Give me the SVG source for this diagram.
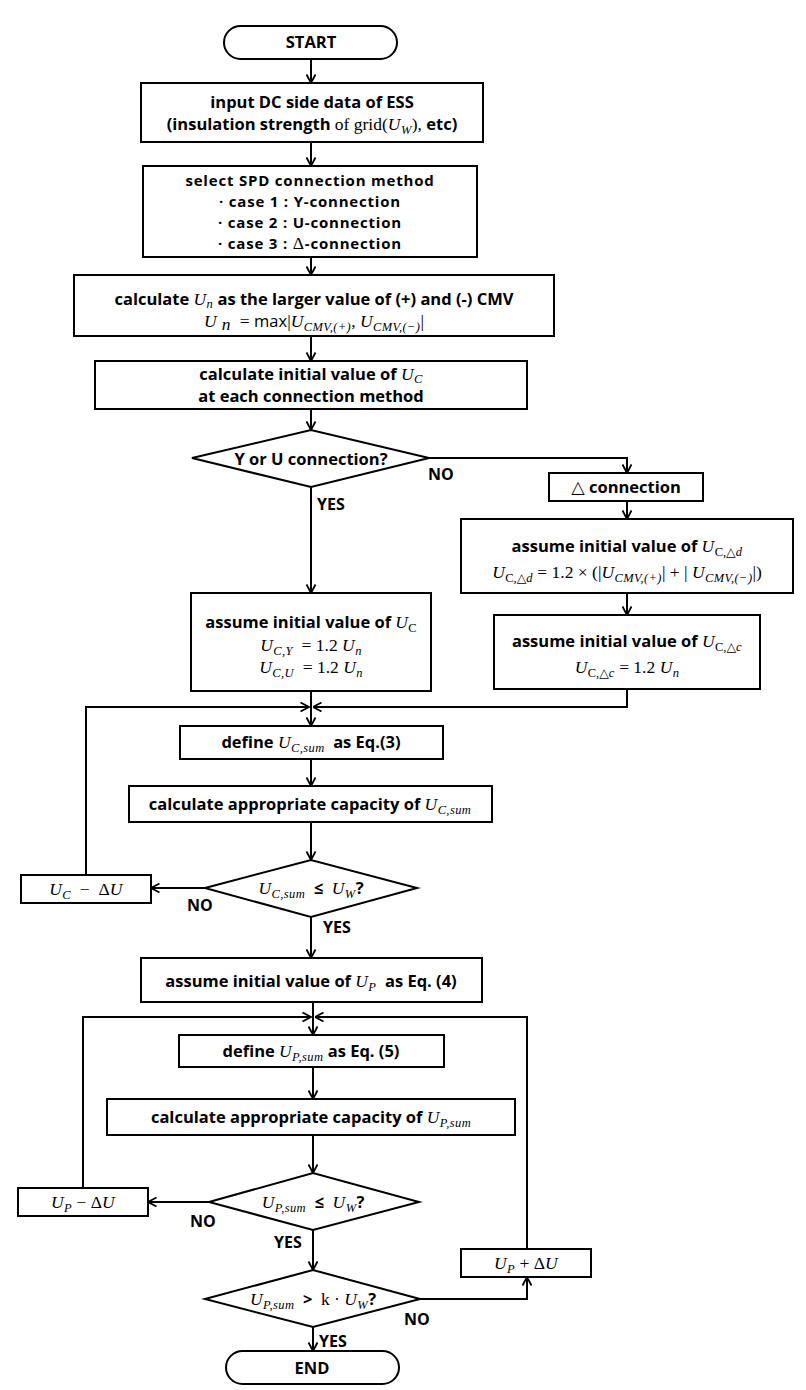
<svg xmlns="http://www.w3.org/2000/svg" width="806" height="1390" viewBox="0 0 806 1390">
<style>
.n{fill:#fff;stroke:#000;stroke-width:2}
.c{fill:none;stroke:#000;stroke-width:2}
.b{font-family:"Open Sans","Noto Sans",sans-serif;font-weight:700;font-size:16.5px;fill:#000}
.k{font-size:15px;letter-spacing:0.8px}
.m{font-family:"Liberation Serif","DejaVu Serif",serif;font-style:italic;font-weight:400;font-size:17.5px;letter-spacing:0.4px}
.r{font-family:"Liberation Serif","DejaVu Serif",serif;font-style:normal;font-weight:400;font-size:17.5px}
.u{font-family:"Open Sans","Noto Sans",sans-serif;font-weight:400}
.s{font-size:12.5px}
.l{font-family:"Open Sans","Noto Sans",sans-serif;font-weight:700;font-size:16px;fill:#000}
</style>
<defs>
<marker id="a" viewBox="0 0 10 10" refX="9.5" refY="5" markerWidth="10" markerHeight="10" markerUnits="userSpaceOnUse" orient="auto">
<path d="M1,0.5 L9.5,5 L1,9.5" fill="none" stroke="#000" stroke-width="1.8"/>
</marker>
</defs>
<rect width="806" height="1390" fill="#fff"/>

<g id="connectors" class="c" marker-end="url(#a)">
<path d="M311,59 V83"/>
<path d="M311,142 V166"/>
<path d="M311,257 V275"/>
<path d="M311,336 V361"/>
<path d="M311,409 V430"/>
<path d="M429,458 H627 V473"/>
<path d="M627,501 V519"/>
<path d="M627,593 V615"/>
<path d="M627,689 V707 H313"/>
<path d="M311,487 V593"/>
<path d="M311,691 V726"/>
<path d="M86,875 V707 H309"/>
<path d="M311,759 V786"/>
<path d="M311,822 V860"/>
<path d="M205,888 H151"/>
<path d="M311,917 V958"/>
<path d="M313,1002 V1035"/>
<path d="M83,1188 V1017 H311"/>
<path d="M527,1249 V1017 H315"/>
<path d="M313,1067 V1099"/>
<path d="M313,1135 V1173"/>
<path d="M209,1202 H148"/>
<path d="M313,1230 V1270"/>
<path d="M420,1299 H527 V1277"/>
<path d="M313,1327 V1351"/>
</g>

<g id="labels" class="l">
<text x="428" y="480">NO</text>
<text x="317" y="510">YES</text>
<text x="187" y="911">NO</text>
<text x="323" y="933">YES</text>
<text x="190" y="1227">NO</text>
<text x="274" y="1248">YES</text>
<text x="404" y="1325">NO</text>
<text x="319" y="1347">YES</text>
</g>

<g id="start">
<rect class="n" x="224" y="26" width="173" height="33" rx="16.5"/>
<text class="b" x="311" y="48" text-anchor="middle">START</text>
</g>

<g id="input">
<rect class="n" x="141" y="83" width="342" height="59"/>
<text class="b" x="312" y="108" text-anchor="middle">input DC side data of ESS</text>
<text class="b" x="312" y="130" text-anchor="middle">(insulation strength <tspan class="r">of grid(</tspan><tspan class="m">U</tspan><tspan class="m s" dy="4">W</tspan><tspan class="r" dy="-4">), </tspan>etc)</text>
</g>

<g id="select">
<rect class="n" x="143" y="166" width="334" height="91"/>
<text class="b k" x="310" y="186" text-anchor="middle">select SPD connection method</text>
<text class="b k" x="310" y="207" text-anchor="middle">· case 1 : Y-connection</text>
<text class="b k" x="310" y="228" text-anchor="middle">· case 2 : U-connection</text>
<text class="b k" x="310" y="249" text-anchor="middle">· case 3 : <tspan class="r">Δ</tspan>-connection</text>
</g>

<g id="calcUn">
<rect class="n" x="74" y="275" width="480" height="61"/>
<text class="b" x="314" y="305" text-anchor="middle">calculate <tspan class="m">U</tspan><tspan class="m s" dy="3">n</tspan><tspan dy="-3"> as the larger value of (+) and (-) CMV</tspan></text>
<text class="b" x="314" y="327" text-anchor="middle"><tspan class="m">U</tspan><tspan class="m" dy="3" font-size="14">&#160;n</tspan><tspan class="r" dy="-3">&#160;&#160;= </tspan><tspan class="u">max</tspan><tspan class="r">|</tspan><tspan class="m">U</tspan><tspan class="m s" dy="4">CMV,(+)</tspan><tspan class="r" dy="-4">, </tspan><tspan class="m">U</tspan><tspan class="m s" dy="4">CMV,(−)</tspan><tspan class="r" dy="-4">|</tspan></text>
</g>

<g id="calcUc">
<rect class="n" x="95" y="361" width="432" height="48"/>
<text class="b" x="311" y="380" text-anchor="middle">calculate initial value of <tspan class="m">U</tspan><tspan class="m s" dy="3">C</tspan></text>
<text class="b" x="311" y="402" text-anchor="middle">at each connection method</text>
</g>

<g id="dec1">
<polygon class="n" points="192,458 311,430 429,458 311,487"/>
<text class="b" x="311" y="465" text-anchor="middle">Y or U connection?</text>
</g>

<g id="delta">
<rect class="n" x="549" y="473" width="154" height="28"/>
<text class="b" x="626" y="493" text-anchor="middle"><tspan class="r">△</tspan> connection</text>
</g>

<g id="deltaD">
<rect class="n" x="461" y="519" width="332" height="74"/>
<text class="b" x="627" y="552" text-anchor="middle">assume initial value of <tspan class="m">U</tspan><tspan class="r s" dy="4">C,△</tspan><tspan class="m s">d</tspan></text>
<text class="b" x="627" y="578" text-anchor="middle"><tspan class="m">U</tspan><tspan class="r s" dy="4">C,△</tspan><tspan class="m s">d</tspan><tspan class="r" dy="-4"> = 1.2 × (|</tspan><tspan class="m">U</tspan><tspan class="m s" dy="4">CMV,(+)</tspan><tspan class="r" dy="-4">| + | </tspan><tspan class="m">U</tspan><tspan class="m s" dy="4">CMV,(−)</tspan><tspan class="r" dy="-4">|)</tspan></text>
</g>

<g id="deltaC">
<rect class="n" x="494" y="615" width="266" height="74"/>
<text class="b" x="627" y="647" text-anchor="middle">assume initial value of <tspan class="m">U</tspan><tspan class="r s" dy="4">C,△</tspan><tspan class="m s">c</tspan></text>
<text class="b" x="627" y="673" text-anchor="middle"><tspan class="m">U</tspan><tspan class="r s" dy="4">C,△</tspan><tspan class="m s">c</tspan><tspan class="r" dy="-4"> = 1.2 </tspan><tspan class="m">U</tspan><tspan class="m s" dy="4">n</tspan></text>
</g>

<g id="assumeUc">
<rect class="n" x="191" y="593" width="240" height="98"/>
<text class="b" x="311" y="628" text-anchor="middle">assume initial value of <tspan class="m">U</tspan><tspan class="r s" dy="4">C</tspan></text>
<text class="b" x="311" y="651" text-anchor="middle"><tspan class="m">U</tspan><tspan class="m s" dy="4">C,Y</tspan><tspan class="r" dy="-4">&#160;&#160;= 1.2 </tspan><tspan class="m">U</tspan><tspan class="m s" dy="4">n</tspan></text>
<text class="b" x="311" y="673" text-anchor="middle"><tspan class="m">U</tspan><tspan class="m s" dy="4">C,U</tspan><tspan class="r" dy="-4">&#160;&#160;= 1.2 </tspan><tspan class="m">U</tspan><tspan class="m s" dy="4">n</tspan></text>
</g>

<g id="defineC">
<rect class="n" x="180" y="726" width="263" height="33"/>
<text class="b" x="311" y="748" text-anchor="middle">define <tspan class="m">U</tspan><tspan class="m s" dy="4">C,sum</tspan><tspan dy="-4">&#160; as Eq.(3)</tspan></text>
</g>

<g id="capC">
<rect class="n" x="129" y="786" width="363" height="36"/>
<text class="b" x="310" y="810" text-anchor="middle">calculate appropriate capacity of <tspan class="m">U</tspan><tspan class="m s" dy="4">C,sum</tspan></text>
</g>

<g id="dec2">
<polygon class="n" points="205,888 311,860 417,888 311,917"/>
<text class="b" x="311" y="894" text-anchor="middle"><tspan class="m">U</tspan><tspan class="m s" dy="4">C,sum</tspan><tspan dy="-4">&#160; ≤ &#160;</tspan><tspan class="m">U</tspan><tspan class="m s" dy="4">W</tspan><tspan dy="-4">?</tspan></text>
</g>

<g id="decC">
<rect class="n" x="21" y="875" width="130" height="28"/>
<text class="b" x="86" y="895" text-anchor="middle"><tspan class="m">U</tspan><tspan class="m s" dy="4">C</tspan><tspan class="r" dy="-4">&#160; − &#160;Δ</tspan><tspan class="m">U</tspan></text>
</g>

<g id="assumeUp">
<rect class="n" x="141" y="958" width="341" height="44"/>
<text class="b" x="311" y="987" text-anchor="middle">assume initial value of <tspan class="m">U</tspan><tspan class="m s" dy="4">P</tspan><tspan dy="-4">&#160; as Eq. (4)</tspan></text>
</g>

<g id="defineP">
<rect class="n" x="179" y="1035" width="265" height="32"/>
<text class="b" x="311" y="1057" text-anchor="middle">define <tspan class="m">U</tspan><tspan class="m s" dy="4">P,sum</tspan><tspan dy="-4"> as Eq. (5)</tspan></text>
</g>

<g id="capP">
<rect class="n" x="107" y="1099" width="408" height="36"/>
<text class="b" x="311" y="1123" text-anchor="middle">calculate appropriate capacity of <tspan class="m">U</tspan><tspan class="m s" dy="4">P,sum</tspan></text>
</g>

<g id="dec3">
<polygon class="n" points="209,1202 313,1173 419,1202 313,1230"/>
<text class="b" x="313" y="1208" text-anchor="middle"><tspan class="m">U</tspan><tspan class="m s" dy="4">P,sum</tspan><tspan dy="-4">&#160; ≤ &#160;</tspan><tspan class="m">U</tspan><tspan class="m s" dy="4">W</tspan><tspan dy="-4">?</tspan></text>
</g>

<g id="decP">
<rect class="n" x="18" y="1188" width="130" height="28"/>
<text class="b" x="83" y="1208" text-anchor="middle"><tspan class="m">U</tspan><tspan class="m s" dy="4">P</tspan><tspan class="r" dy="-4"> − Δ</tspan><tspan class="m">U</tspan></text>
</g>

<g id="dec4">
<polygon class="n" points="205,1299 313,1270 420,1299 313,1327"/>
<text class="b" x="313" y="1305" text-anchor="middle"><tspan class="m">U</tspan><tspan class="m s" dy="4">P,sum</tspan><tspan dy="-4">&#160; &gt; &#160;</tspan><tspan class="r">k · </tspan><tspan class="m">U</tspan><tspan class="m s" dy="4">W</tspan><tspan dy="-4">?</tspan></text>
</g>

<g id="incP">
<rect class="n" x="461" y="1249" width="130" height="28"/>
<text class="b" x="526" y="1269" text-anchor="middle"><tspan class="m">U</tspan><tspan class="m s" dy="4">P</tspan><tspan class="r" dy="-4"> + Δ</tspan><tspan class="m">U</tspan></text>
</g>

<g id="end">
<rect class="n" x="226" y="1351" width="173" height="33" rx="16.5"/>
<text class="b" x="312" y="1374" text-anchor="middle">END</text>
</g>
</svg>
